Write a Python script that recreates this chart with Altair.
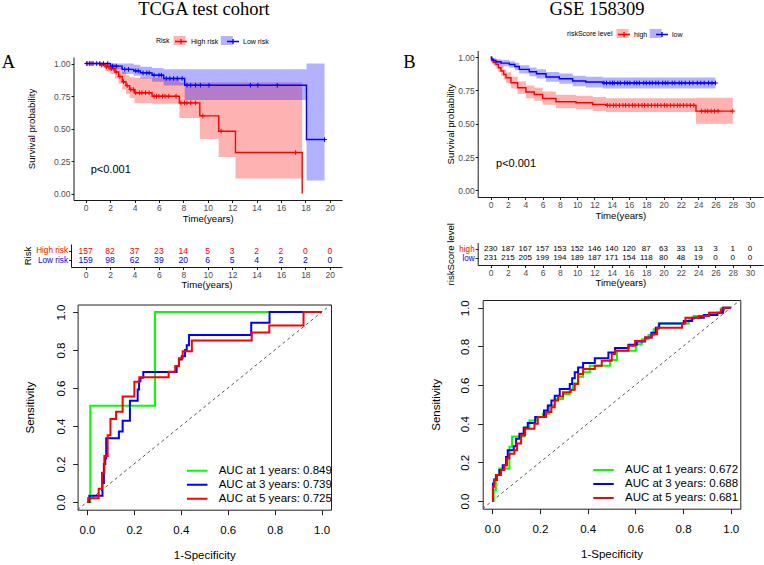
import altair as alt
import pandas as pd

W, H = 764, 565
SANS = "Liberation Sans"
SERIF = "Liberation Serif"
RED, BLUE, GREEN = "#FF0000", "#0000FF", "#00FF00"
PLUS = "M-1,0L1,0M0,-1L0,1"
KEY_RECT = "M-1,-0.75L1,-0.75L1,0.75L-1,0.75Z"
KEY_LINE = "M-1,0L1,0M0,-0.4L0,0.4"

# ---------------- A: TCGA test cohort ----------------
a_groups = ["High risk", "Low risk"]
a_high_t = [0, 1.2, 1.6, 2.0, 2.4, 2.7, 3.0, 3.3, 3.6, 4.0, 5.44, 7.68, 9.35, 10.9, 12.27, 17.74]
a_high_s = [1.0, 0.99, 0.975, 0.96, 0.935, 0.90, 0.86, 0.83, 0.80, 0.775, 0.748, 0.697, 0.597, 0.479, 0.315, 0.0]
a_high_lo = [1.0, 0.97, 0.94, 0.92, 0.885, 0.845, 0.80, 0.765, 0.735, 0.695, 0.69, 0.58, 0.42, 0.28, 0.115, 0.115]
a_high_hi = [1.0, 1.0, 1.0, 1.0, 0.99, 0.965, 0.935, 0.91, 0.895, 0.89, 0.89, 0.853, 0.853, 0.853, 0.853, 0.853]
a_low_t = [0, 2.02, 2.98, 3.93, 4.48, 5.44, 6.39, 8.11, 18.09, 19.57]
a_low_s = [1.0, 0.98, 0.955, 0.943, 0.928, 0.91, 0.885, 0.833, 0.415, 0.415]
a_low_lo = [1.0, 0.955, 0.92, 0.905, 0.885, 0.86, 0.83, 0.72, 0.10, 0.10]
a_low_hi = [1.0, 1.0, 1.0, 0.99, 0.975, 0.965, 0.956, 0.956, 1.0, 1.0]
a_high_cens = [0.1, 0.3, 0.5, 1.3, 1.7, 1.9, 2.1, 2.3, 2.5, 2.8, 3.1, 3.4, 3.7, 3.9, 4.1, 4.4, 4.6,
               4.9, 5.2, 5.6, 5.8, 6.0, 6.3, 6.5, 6.8, 7.4, 7.8, 8.1, 8.3, 8.6, 9.0, 9.6, 11.1, 17.2]
a_low_cens = [0.1, 0.35, 0.6, 0.9, 1.15, 1.45, 1.8, 2.2, 2.5, 3.2, 3.5, 4.1, 4.3, 4.7, 5.0, 5.2, 5.6,
              6.0, 6.2, 6.6, 6.9, 7.2, 7.5, 7.9, 8.3, 8.6, 9.0, 9.4, 10.1, 13.5, 14.1, 15.7, 19.57]
a_table_t = [0, 2, 4, 6, 8, 10, 12, 14, 16, 18, 20]
a_high_n = [157, 82, 37, 23, 14, 5, 3, 2, 2, 0, 0]
a_low_n = [159, 98, 62, 39, 20, 6, 5, 4, 2, 2, 0]

a_roc_labels = ["AUC at 1 years: 0.849", "AUC at 3 years: 0.739", "AUC at 5 years: 0.725"]
a_roc1_fpr = [0, 0.014, 0.29, 1.0]
a_roc1_tpr = [0, 0.507, 1.0, 1.0]
a_roc3_fpr = [0, 0.01, 0.066, 0.072, 0.078, 0.082, 0.136, 0.152, 0.183, 0.216, 0.222, 0.228, 0.24,
              0.382, 0.392, 0.404, 0.418, 0.425, 0.435, 0.70, 0.778, 1.0]
a_roc3_tpr = [0, 0.033, 0.10, 0.20, 0.23, 0.336, 0.371, 0.428, 0.534, 0.592, 0.636, 0.655, 0.685,
              0.716, 0.75, 0.768, 0.80, 0.826, 0.88, 0.944, 1.0, 1.0]
a_roc5_fpr = [0, 0.005, 0.05, 0.064, 0.074, 0.088, 0.10, 0.124, 0.152, 0.202, 0.223, 0.348, 0.376,
              0.392, 0.408, 0.447, 0.702, 0.777, 0.923, 1.0]
a_roc5_tpr = [0, 0.02, 0.07, 0.155, 0.243, 0.352, 0.437, 0.475, 0.556, 0.634, 0.657, 0.686, 0.715,
              0.757, 0.794, 0.85, 0.893, 0.93, 1.0, 1.0]

# ---------------- B: GSE 158309 ----------------
b_groups = ["high", "low"]
b_high_t = [0, 0.1, 0.3, 0.61, 0.9, 1.19, 1.5, 1.77, 2.35, 3.12, 4.08, 5.05, 6.01, 7.55, 9.87, 11.8, 13.34, 23.75, 28.0]
b_high_s = [1.0, 0.975, 0.96, 0.945, 0.92, 0.896, 0.87, 0.845, 0.808, 0.77, 0.738, 0.72, 0.69, 0.665, 0.658, 0.645, 0.638, 0.595, 0.595]
b_high_lo = [1.0, 0.955, 0.935, 0.915, 0.887, 0.86, 0.832, 0.805, 0.765, 0.725, 0.692, 0.673, 0.642, 0.616, 0.608, 0.595, 0.588, 0.50, 0.50]
b_high_hi = [1.0, 0.995, 0.985, 0.975, 0.955, 0.933, 0.91, 0.887, 0.852, 0.817, 0.787, 0.77, 0.742, 0.718, 0.711, 0.70, 0.692, 0.695, 0.695]
b_low_t = [0, 0.1, 0.3, 0.61, 1.2, 2.16, 2.8, 3.31, 4.47, 5.3, 6.4, 7.94, 9.49, 11.0, 12.96, 26.0]
b_low_s = [1.0, 0.985, 0.975, 0.965, 0.955, 0.945, 0.93, 0.908, 0.89, 0.875, 0.851, 0.838, 0.821, 0.813, 0.806, 0.806]
b_low_lo = [1.0, 0.97, 0.958, 0.945, 0.932, 0.92, 0.902, 0.877, 0.857, 0.84, 0.815, 0.80, 0.782, 0.773, 0.765, 0.765]
b_low_hi = [1.0, 1.0, 0.992, 0.985, 0.978, 0.97, 0.958, 0.939, 0.923, 0.91, 0.888, 0.877, 0.86, 0.853, 0.848, 0.848]
b_high_cens = [13.5, 13.8, 14.2, 14.5, 14.9, 15.3, 15.6, 16.0, 16.4, 16.7, 17.1, 17.5, 17.8, 18.2, 18.6,
               19.0, 19.3, 19.7, 20.1, 20.4, 20.8, 21.2, 21.6, 21.9, 22.3, 22.7, 23.1, 23.5, 24.4, 24.8,
               25.1, 25.5, 25.9, 26.3, 28.0]
b_low_cens = [13.1, 13.4, 13.8, 14.1, 14.3, 14.7, 15.0, 15.5, 15.8, 16.1, 16.6, 16.9, 17.2, 17.7, 18.0,
              18.4, 18.7, 19.1, 19.4, 19.9, 20.2, 20.5, 21.0, 21.3, 21.8, 22.1, 22.5, 23.0, 23.4, 23.9,
              24.3, 24.7, 25.2, 25.6, 26.0]
b_table_t = [0, 2, 4, 6, 8, 10, 12, 14, 16, 18, 20, 22, 24, 26, 28, 30]
b_high_n = [230, 187, 167, 157, 153, 152, 146, 140, 120, 87, 63, 33, 13, 3, 1, 0]
b_low_n = [231, 215, 205, 199, 194, 189, 187, 171, 154, 118, 80, 48, 19, 0, 0, 0]

b_roc_labels = ["AUC at 1 years: 0.672", "AUC at 3 years: 0.688", "AUC at 5 years: 0.681"]
b_roc1_fpr = [0, 0.006, 0.015, 0.03, 0.072, 0.083, 0.135, 0.156, 0.188, 0.212, 0.24, 0.262, 0.297, 0.325,
              0.339, 0.36, 0.381, 0.409, 0.494, 0.523, 0.602, 0.627, 0.655, 0.677, 0.698, 0.824, 0.845,
              0.909, 0.962, 1.0]
b_roc1_tpr = [0, 0.057, 0.134, 0.168, 0.28, 0.334, 0.382, 0.417, 0.434, 0.451, 0.494, 0.528, 0.554, 0.575,
              0.609, 0.643, 0.666, 0.70, 0.729, 0.777, 0.811, 0.837, 0.859, 0.888, 0.919, 0.94, 0.957,
              0.974, 1.0, 1.0]
b_roc3_fpr = [0, 0.003, 0.008, 0.017, 0.03, 0.044, 0.058, 0.065, 0.09, 0.10, 0.114, 0.132, 0.149, 0.18,
              0.217, 0.233, 0.248, 0.262, 0.283, 0.325, 0.335, 0.346, 0.36, 0.381, 0.43, 0.487, 0.515,
              0.571, 0.606, 0.641, 0.667, 0.686, 0.70, 0.803, 0.838, 0.887, 0.944, 0.968, 1.0]
b_roc3_tpr = [0, 0.091, 0.111, 0.134, 0.16, 0.185, 0.228, 0.262, 0.283, 0.322, 0.348, 0.379, 0.403, 0.434,
              0.468, 0.494, 0.52, 0.545, 0.58, 0.605, 0.635, 0.666, 0.691, 0.714, 0.739, 0.768, 0.791,
              0.808, 0.825, 0.846, 0.871, 0.897, 0.918, 0.931, 0.948, 0.962, 0.974, 1.0, 1.0]
b_roc5_fpr = [0, 0.003, 0.008, 0.02, 0.037, 0.051, 0.062, 0.072, 0.093, 0.104, 0.121, 0.138, 0.177, 0.191,
              0.226, 0.248, 0.262, 0.276, 0.297, 0.329, 0.346, 0.36, 0.381, 0.43, 0.459, 0.501, 0.515,
              0.571, 0.599, 0.641, 0.669, 0.691, 0.796, 0.81, 0.866, 0.909, 0.958, 0.972, 1.0]
b_roc5_tpr = [0, 0.074, 0.108, 0.134, 0.16, 0.185, 0.22, 0.245, 0.262, 0.297, 0.34, 0.374, 0.40, 0.434,
              0.46, 0.485, 0.52, 0.54, 0.563, 0.575, 0.605, 0.657, 0.683, 0.70, 0.726, 0.76, 0.777,
              0.803, 0.828, 0.846, 0.863, 0.897, 0.918, 0.948, 0.957, 0.974, 0.991, 1.0, 1.0]

roc_lim = [-0.04, 1.04]
roc_ticks = [0, 0.2, 0.4, 0.6, 0.8, 1.0]
surv_ticks = [0, 0.25, 0.5, 0.75, 1.0]


# ---------------- helpers ----------------
def step_value(ts, ss, t):
    """Survival value of a step curve at time t."""
    val = ss[0]
    for ti, si in zip(ts, ss):
        if ti <= t:
            val = si
    return val


def km_frame(groups, ts, ss, los, his):
    return pd.concat([pd.DataFrame({"group": g, "t": t, "s": s, "lo": lo, "hi": hi})
                      for g, t, s, lo, hi in zip(groups, ts, ss, los, his)], ignore_index=True)


def cens_frame(groups, cens, ts, ss):
    return pd.concat([pd.DataFrame({"group": g, "t": c, "s": [step_value(t, s, x) for x in c]})
                      for g, c, t, s in zip(groups, cens, ts, ss)], ignore_index=True)


def table_frame(groups, times, counts):
    return pd.concat([pd.DataFrame({"group": g, "t": times, "n": n})
                      for g, n in zip(groups, counts)], ignore_index=True)


def roc_frame(labels, fprs, tprs):
    return pd.concat([pd.DataFrame({"label": lab, "fpr": f, "tpr": t})
                      for lab, f, t in zip(labels, fprs, tprs)], ignore_index=True)


def ax_bottom(at, **kw):
    return alt.Axis(orient="bottom", offset=at - H, **kw)


def ax_left(at, **kw):
    return alt.Axis(orient="left", offset=-at, **kw)


def ax_top(at, **kw):
    return alt.Axis(orient="top", offset=-at, **kw)


def ax_right(at, **kw):
    return alt.Axis(orient="right", offset=at - W, **kw)


GG = dict(domainColor="black", tickColor="black", titleColor="black",
          labelFont=SANS, titleFont=SANS, titleFontWeight="normal", grid=False,
          tickSize=2.5, domainWidth=0.9, tickWidth=0.9)


def scale(dom, rng):
    return alt.Scale(domain=dom, range=rng, nice=False, zero=False)


def km_panel(curve, cens, groups, xdom, xrng, yrng, xticks, x_at, y_at, ytitle_pad,
             legend_title, legend_x, legend_y, title_w, first_label_w, notes, pnote):
    xs = scale(xdom, xrng)
    ys = scale([-0.05, 1.05], yrng)
    col = alt.Scale(domain=groups, range=[RED, BLUE])
    # legend with the text, the line key and the censoring cross
    line_leg = alt.Legend(orient="none", legendX=legend_x, legendY=legend_y, direction="horizontal",
                          title=legend_title, titleOrient="left", titleFontSize=7, titleFont=SANS,
                          titleFontWeight="normal", titlePadding=4, titleColor="black",
                          labelFontSize=7, labelFont=SANS, labelColor="black", labelOffset=3,
                          columnPadding=5, padding=0, symbolSize=144, symbolType=KEY_LINE,
                          symbolStrokeWidth=1.3)
    # confidence-band key squares laid under the line keys
    band_leg = alt.Legend(orient="none", legendX=legend_x + title_w + 4, legendY=legend_y,
                          direction="horizontal", title=None, labelExpr="''", labelOffset=0,
                          columnPadding=3 + first_label_w + 5, padding=0, symbolSize=144,
                          symbolType=KEY_RECT, symbolOpacity=0.3, symbolStrokeWidth=0)
    band = alt.Chart(curve).mark_area(interpolate="step-after", opacity=0.3).encode(
        x=alt.X("t:Q", scale=xs, axis=None),
        y=alt.Y("lo:Q", scale=ys, axis=None),
        y2="hi:Q",
        fill=alt.Fill("group:N", scale=col, legend=band_leg),
    )
    line = alt.Chart(curve).mark_line(interpolate="step-after", strokeWidth=1.4).encode(
        x=alt.X("t:Q", scale=xs, axis=ax_bottom(x_at, values=xticks, title="Time(years)",
                                                labelFontSize=8.5, titleFontSize=9.6,
                                                labelColor="#4D4D4D", labelPadding=1,
                                                titlePadding=1, **GG)),
        y=alt.Y("s:Q", scale=ys, axis=ax_left(y_at, values=surv_ticks, format=".2f",
                                              title="Survival probability", labelFontSize=8.5,
                                              titleFontSize=9.6, labelColor="#4D4D4D",
                                              labelPadding=1, titlePadding=ytitle_pad, **GG)),
        stroke=alt.Stroke("group:N", scale=col, legend=line_leg),
    )
    marks = alt.Chart(cens).mark_point(shape=PLUS, filled=False, size=22, strokeWidth=1,
                                       opacity=1).encode(
        x=alt.X("t:Q", scale=xs, axis=None),
        y=alt.Y("s:Q", scale=ys, axis=None),
        stroke=alt.Stroke("group:N", scale=col, legend=None),
    )
    heads = alt.Chart(notes).mark_text(font=SERIF, fontSize=18.5, align="center",
                                       baseline="middle", color="black").encode(
        x=alt.X("t:Q", scale=xs, axis=None),
        y=alt.Y("s:Q", scale=ys, axis=None),
        text="label:N",
    )
    pval = alt.Chart(pnote).mark_text(font=SANS, fontSize=11, align="left",
                                      baseline="middle", color="black").encode(
        x=alt.X("t:Q", scale=xs, axis=None),
        y=alt.Y("s:Q", scale=ys, axis=None),
        text="label:N",
    )
    return alt.layer(band, line, marks, heads, pval).resolve_legend(
        fill="independent").resolve_axis(x="independent", y="independent")


def table_panel(tab, groups, colored, xdom, xrng, yrng, xticks, x_at, y_at, ytitle,
                num_size, ytitle_pad):
    xs = scale(xdom, xrng)
    ys = alt.Scale(type="point", domain=groups, range=yrng, padding=0.69)
    label_col = {"condition": {"test": f"datum.value === '{groups[0]}'", "value": RED},
                 "value": BLUE}
    if colored:
        color = alt.Color("group:N", scale=alt.Scale(domain=groups, range=[RED, BLUE]), legend=None)
    else:
        color = alt.value("black")
    return alt.Chart(tab).mark_text(font=SANS, fontSize=num_size, baseline="middle").encode(
        x=alt.X("t:Q", scale=xs, axis=ax_bottom(x_at, values=xticks, title="Time(years)",
                                                labelFontSize=8.5, titleFontSize=9.6,
                                                labelPadding=1, titlePadding=0,
                                                labelColor="#4D4D4D", **GG)),
        y=alt.Y("group:N", scale=ys, axis=ax_left(y_at, title=ytitle, labelFontSize=8.2,
                                                  titleFontSize=9.6, labelPadding=1,
                                                  titlePadding=ytitle_pad, labelColor=label_col,
                                                  **GG)),
        text="n:Q",
        color=color,
    )


RAX = dict(domainColor="#222", tickColor="#222", labelColor="black", titleColor="black",
           labelFont=SANS, titleFont=SANS, titleFontWeight="normal", grid=False)


def roc_panel(roc, labels, xrng, yrng, ylab_pad, ytitle_pad, legend_x, legend_y):
    xs = scale(roc_lim, xrng)
    ys = scale(roc_lim, yrng)
    left_x, right_x = xrng
    bottom_y, top_y = yrng
    diag = alt.Chart(pd.DataFrame({"v": roc_lim})).mark_line(
        strokeDash=[3, 3], color="#555555", strokeWidth=1).encode(
        x=alt.X("v:Q", scale=xs, axis=ax_top(top_y, labels=False, ticks=False, title=None, **RAX)),
        y=alt.Y("v:Q", scale=ys, axis=ax_right(right_x, labels=False, ticks=False, title=None, **RAX)),
    )
    lines = alt.Chart(roc).mark_line(interpolate="step-after", strokeWidth=2).encode(
        x=alt.X("fpr:Q", scale=xs, axis=ax_bottom(bottom_y, values=roc_ticks, format=".1f",
                                                  title="1-Specificity", labelFontSize=11.5,
                                                  titleFontSize=11.5, tickSize=5, labelPadding=10,
                                                  titlePadding=13, **RAX)),
        y=alt.Y("tpr:Q", scale=ys, axis=ax_left(left_x, values=roc_ticks, format=".1f",
                                                title="Sensitivity", labelFontSize=11.5,
                                                titleFontSize=11.5, tickSize=5, labelAngle=270,
                                                labelAlign="center", labelBaseline="bottom",
                                                labelPadding=ylab_pad, titlePadding=ytitle_pad,
                                                **RAX)),
        stroke=alt.Stroke("label:N", scale=alt.Scale(domain=labels, range=[GREEN, BLUE, RED]),
                          legend=alt.Legend(orient="none", legendX=legend_x, legendY=legend_y,
                                            title=None, symbolType="stroke", symbolSize=420,
                                            symbolStrokeWidth=2, labelFontSize=11.5,
                                            labelFont=SANS, labelColor="black", labelOffset=10,
                                            clipHeight=13.3, rowPadding=0, padding=0)),
    )
    return alt.layer(diag, lines).resolve_axis(x="independent", y="independent")


# ---------------- panels ----------------
km_a = km_panel(
    km_frame(a_groups, [a_high_t, a_low_t], [a_high_s, a_low_s], [a_high_lo, a_low_lo], [a_high_hi, a_low_hi]),
    cens_frame(a_groups, [a_high_cens, a_low_cens], [a_high_t, a_low_t], [a_high_s, a_low_s]),
    a_groups, [-1, 21], [73.5, 342], [200, 57], a_table_t, 200, 73.5, 17,
    "Risk", 156, 34.5, 13.6, 27.2,
    pd.DataFrame({"t": [9.69, -6.33], "s": [1.419, 1.008], "label": ["TCGA test cohort", "A"]}),
    pd.DataFrame({"t": [0.41], "s": [0.18], "label": ["p<0.001"]}),
)
km_b = km_panel(
    km_frame(b_groups, [b_high_t, b_low_t], [b_high_s, b_low_s], [b_high_lo, b_low_lo], [b_high_hi, b_low_hi]),
    cens_frame(b_groups, [b_high_cens, b_low_cens], [b_high_t, b_low_t], [b_high_s, b_low_s]),
    b_groups, [-1.5, 31.5], [477.7, 763], [197, 50.5], b_table_t, 197, 477.7, 2,
    "riskScore level", 567, 27.5, 45.5, 13.2,
    pd.DataFrame({"t": [12.3, -9.39], "s": [1.362, 0.96], "label": ["GSE 158309", "B"]}),
    pd.DataFrame({"t": [0.62], "s": [0.196], "label": ["p<0.001"]}),
)
tab_a = table_panel(table_frame(a_groups, a_table_t, [a_high_n, a_low_n]), a_groups, True,
                    [-1.2, 21], [71, 342], [244, 267], a_table_t, 267, 71, "Risk", 8.6, 3)
tab_b = table_panel(table_frame(b_groups, b_table_t, [b_high_n, b_low_n]), b_groups, False,
                    [-1.5, 31.5], [477.7, 763], [242.5, 265], b_table_t, 265, 477.7,
                    "riskScore level", 8, 3)
roc_a = roc_panel(roc_frame(a_roc_labels, [a_roc1_fpr, a_roc3_fpr, a_roc5_fpr],
                            [a_roc1_tpr, a_roc3_tpr, a_roc5_tpr]),
                  a_roc_labels, [77.6, 331], [509.7, 304.5], 6, 20, 185.7, 464)
roc_b = roc_panel(roc_frame(b_roc_labels, [b_roc1_fpr, b_roc3_fpr, b_roc5_fpr],
                            [b_roc1_tpr, b_roc3_tpr, b_roc5_tpr]),
                  b_roc_labels, [482.7, 740.3], [508.7, 300], 7, 18, 592, 463.4)

chart = alt.layer(km_a, km_b, tab_a, tab_b, roc_a, roc_b).resolve_scale(
    x="independent", y="independent", fill="independent", stroke="independent", color="independent"
).resolve_axis(x="independent", y="independent").properties(
    width=W, height=H, autosize=alt.AutoSizeParams(type="none"), padding=0,
    background="white",
).configure_view(stroke=None)

chart.save("out.html", embed_options={"renderer": "svg", "actions": False})
